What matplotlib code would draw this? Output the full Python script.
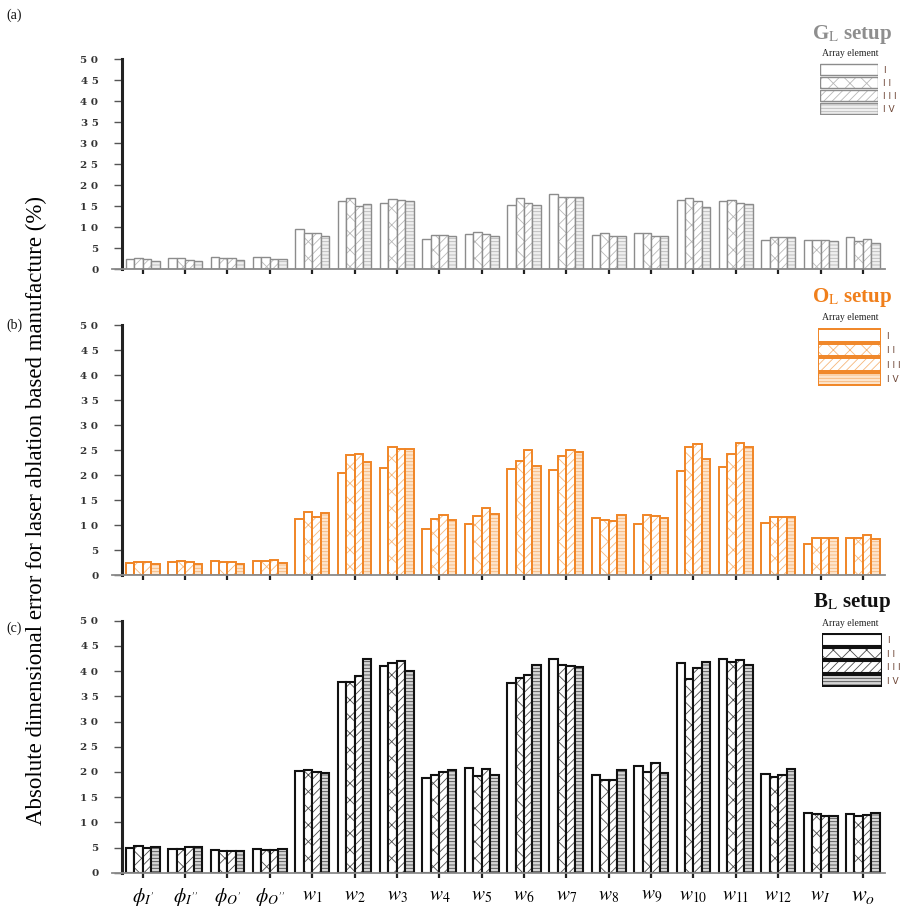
import numpy as np
import matplotlib.pyplot as plt
from matplotlib.ticker import FuncFormatter

plt.rcParams['mathtext.fontset'] = 'stix'
plt.rcParams['hatch.linewidth'] = 0.6

labels = [r'$\phi_{I^{\prime}}$', r'$\phi_{I^{\prime\prime}}$', r'$\phi_{O^{\prime}}$',
          r'$\phi_{O^{\prime\prime}}$', r'$w_1$', r'$w_2$', r'$w_3$', r'$w_4$', r'$w_5$',
          r'$w_6$', r'$w_7$', r'$w_8$', r'$w_9$', r'$w_{10}$', r'$w_{11}$', r'$w_{12}$',
          r'$w_I$', r'$w_o$']
elements = ['I', 'I I', 'I I I', 'I V']

# G_L setup, one list per array element
gl_1 = [2.5, 2.7, 2.9, 2.85, 9.5, 16.3, 15.9, 7.2, 8.3, 15.2, 17.9, 8.25, 8.7, 16.5, 16.3, 7.1, 7.1, 7.8]
gl_2 = [2.8, 2.7, 2.6, 2.85, 8.6, 17.0, 16.7, 8.25, 9.0, 17.1, 17.2, 8.6, 8.7, 17.1, 16.6, 7.6, 7.1, 6.7]
gl_3 = [2.5, 2.3, 2.6, 2.4, 8.6, 15.0, 16.4, 8.1, 8.3, 15.7, 17.2, 7.9, 8.0, 16.3, 15.7, 7.8, 7.1, 7.3]
gl_4 = [2.0, 2.0, 2.3, 2.4, 7.9, 15.6, 16.3, 7.9, 8.0, 15.3, 17.3, 7.9, 8.0, 14.8, 15.6, 7.6, 6.8, 6.3]

# O_L setup
ol_1 = [2.4, 2.7, 2.8, 2.8, 11.3, 20.4, 21.5, 9.3, 10.3, 21.2, 21.0, 11.5, 10.2, 20.8, 21.7, 10.4, 6.2, 7.5]
ol_2 = [2.7, 2.9, 2.7, 2.8, 12.6, 24.0, 25.7, 11.3, 11.9, 22.9, 23.8, 11.0, 12.1, 25.7, 24.2, 11.7, 7.5, 7.5]
ol_3 = [2.6, 2.6, 2.7, 3.0, 11.6, 24.2, 25.2, 12.0, 13.5, 25.0, 25.1, 10.9, 11.9, 26.3, 26.5, 11.7, 7.4, 8.1]
ol_4 = [2.2, 2.2, 2.3, 2.5, 12.5, 22.6, 25.2, 11.0, 12.2, 21.9, 24.7, 12.0, 11.5, 23.3, 25.7, 11.7, 7.5, 7.2]

# B_L setup
bl_1 = [5.0, 4.8, 4.6, 4.8, 20.1, 37.8, 41.1, 18.8, 20.8, 37.7, 42.5, 19.3, 21.2, 41.7, 42.5, 19.6, 11.8, 11.7]
bl_2 = [5.3, 4.8, 4.4, 4.5, 20.3, 37.8, 41.7, 19.3, 19.2, 38.6, 41.3, 18.4, 20.0, 38.5, 41.8, 18.9, 11.7, 11.2]
bl_3 = [5.0, 5.1, 4.4, 4.6, 20.0, 39.0, 42.1, 19.9, 20.6, 39.3, 41.0, 18.5, 21.7, 40.7, 42.2, 19.3, 11.3, 11.5]
bl_4 = [5.2, 5.2, 4.4, 4.8, 19.7, 42.5, 40.0, 20.4, 19.4, 41.2, 40.8, 20.4, 19.8, 41.9, 41.3, 20.6, 11.3, 11.8]

hatches = ['', 'xx', '////', '-----']
width = 0.2

panels = [
    dict(series=[gl_1, gl_2, gl_3, gl_4], name=r'G$_{\rm L}$ setup', tag='(a)',
         edge='#8c8c8c', hatch='#b8b8b8', fill4='#efefef', lw=1.0, title='#8e8e8e',
         rect=[0.1228, 0.705, 0.8476, 0.230], leg=[0.899, 0.874, 0.0636, 0.057],
         name_y=35, sub_y=53, tag_y=15),
    dict(series=[ol_1, ol_2, ol_3, ol_4], name=r'O$_{\rm L}$ setup', tag='(b)',
         edge='#f08526', hatch='#f6b67a', fill4='#fde5cd', lw=1.4, title='#f07f1b',
         rect=[0.1228, 0.3699, 0.8476, 0.2736], leg=[0.897, 0.577, 0.069, 0.0635],
         name_y=297, sub_y=317, tag_y=325),
    dict(series=[bl_1, bl_2, bl_3, bl_4], name=r'B$_{\rm L}$ setup', tag='(c)',
         edge='#111111', hatch='#4a4a4a', fill4='#d6d6d6', lw=1.5, title='#111111',
         rect=[0.1228, 0.0441, 0.8476, 0.276], leg=[0.901, 0.2475, 0.0658, 0.0591],
         name_y=602, sub_y=624, tag_y=628),
]

fig = plt.figure(figsize=(9.12, 9.13), dpi=100)
x = np.arange(len(labels))
W, H = 912, 913

for k, p in enumerate(panels):
    ax = fig.add_axes(p['rect'])
    for i, vals in enumerate(p['series']):
        pos = x + (i - 1.5) * width
        face = p['fill4'] if i == 3 else 'white'
        # hatch layer, then the outline on top
        ax.bar(pos, vals, width, color=face, edgecolor=p['hatch'], hatch=hatches[i], linewidth=0)
        ax.bar(pos, vals, width, fill=False, edgecolor=p['edge'], linewidth=p['lw'])

    ax.set_xlim(-0.725, 17.52)
    ax.set_ylim(0, 50)
    ax.set_yticks(np.arange(0, 51, 5))
    ax.yaxis.set_major_formatter(FuncFormatter(lambda v, pos: ' '.join(str(int(v)))))
    ax.set_xticks(x)
    for s in ['top', 'right']:
        ax.spines[s].set_visible(False)
    ax.spines['left'].set_position(('axes', 10 / 773))
    ax.spines['left'].set_linewidth(2.2)
    ax.spines['left'].set_color('#222222')
    ax.spines['bottom'].set_linewidth(1.3)
    ax.spines['bottom'].set_color('#8a8a8a')
    ax.tick_params(axis='y', length=6, width=1.0, color='#555555', pad=11,
                   labelsize=7.5, labelcolor='#333333')
    for t in ax.get_yticklabels():
        t.set_fontfamily('DejaVu Serif')
        t.set_fontweight('bold')
    ax.tick_params(axis='x', length=3.5, width=1.6, color='#222222', pad=6)
    if k == 2:
        ax.set_xticklabels(labels, fontsize=14)
        ax.get_xticklabels()[-1].set_fontsize(16)
    else:
        ax.set_xticklabels([])

    # legend box: one bar per array element
    lax = fig.add_axes(p['leg'])
    ly = np.arange(4)[::-1]
    for i in range(4):
        face = p['fill4'] if i == 3 else 'white'
        lax.barh(ly[i], 1, height=0.85, color=face, edgecolor=p['hatch'], hatch=hatches[i], linewidth=0)
        lax.barh(ly[i], 1, height=0.85, fill=False, edgecolor=p['edge'], linewidth=p['lw'])
    lax.set_xlim(0, 1)
    lax.set_ylim(-0.5, 3.5)
    for s in lax.spines.values():
        s.set_visible(False)
    lax.set_xticks([])
    lax.yaxis.tick_right()
    lax.set_yticks(ly)
    lax.set_yticklabels(elements, fontsize=6.5, color='#6e4636')
    lax.tick_params(axis='y', length=0, pad=4)

    fig.text(852 / W, 1 - p['name_y'] / H, p['name'], ha='center', va='center',
             fontsize=15, fontweight='bold', family='Liberation Serif', color=p['title'])
    fig.text(850 / W, 1 - p['sub_y'] / H, 'Array element', ha='center', va='center',
             fontsize=7, family='Liberation Serif', color='#222222')
    fig.text(6 / W, 1 - p['tag_y'] / H, p['tag'], ha='left', va='center',
             fontsize=10, family='Liberation Serif', color='#111111')

fig.text(36 / W, 1 - 510 / H, 'Absolute dimensional error for laser ablation based manufacture (%)',
         rotation=90, ha='center', va='center', fontsize=16.5, family='Liberation Serif')

fig.savefig('out.png', dpi=100)
